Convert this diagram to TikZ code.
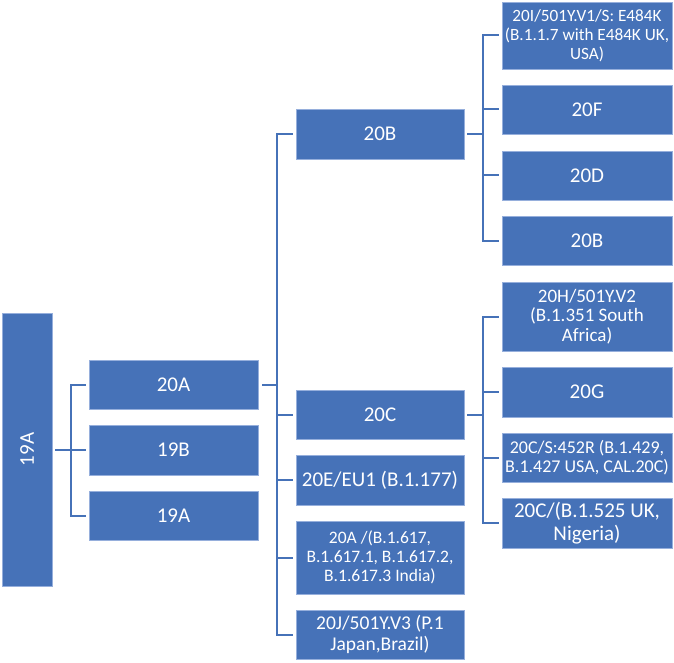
\documentclass[tikz,border=0pt]{standalone}
\usepackage{fontspec}
\setmainfont{Carlito}
\definecolor{boxblue}{RGB}{70,114,184}
\definecolor{boxedge}{RGB}{150,175,220}
\begin{document}
\begin{tikzpicture}[x=1pt,y=-1pt,
  box/.style={fill=boxblue, draw=boxedge, line width=0.7pt, text=white, inner sep=0pt, align=center, anchor=center},
  cola/.style={box, minimum width=169pt},
  colb/.style={box, minimum width=168pt},
  colc/.style={box, minimum width=170pt},
  big/.style={font=\fontsize{21}{22}\selectfont},
  conn/.style={draw=boxblue, line width=2pt}]
\useasboundingbox (0,0) rectangle (674,663);
% root
\node[box, minimum width=50pt, minimum height=273pt, big] (root) at (27,449.5) {\rotatebox{90}{19A}};
% level 1
\node[cola, minimum height=49pt, big] (a20A) at (173.5,384.5) {20A};
\node[cola, minimum height=50pt, big] (a19B) at (173.5,450) {19B};
\node[cola, minimum height=49pt, big] (a19A) at (173.5,515.5) {19A};
% level 2
\node[colb, minimum height=50pt, big] (b20B) at (380,134) {20B};
\node[colb, minimum height=49pt, big] (b20C) at (380,414.5) {20C};
\node[colb, minimum height=50pt, big] (b20E) at (380,480) {20E/EU1 (B.1.177)};
\node[colb, minimum height=73pt, font=\fontsize{17.5}{18.8}\selectfont] (b20Ai) at (380,557.5) {20A /(B.1.617,\\B.1.617.1, B.1.617.2,\\B.1.617.3 India)};
\node[colb, minimum height=49pt, font=\fontsize{19.5}{20.5}\selectfont] (b20J) at (380,634.5) {20J/501Y.V3 (P.1\\Japan,Brazil)};
% level 3 under 20B
\node[colc, minimum height=67pt, font=\fontsize{17.2}{19}\selectfont] (c20I) at (587,35.5) {20I/501Y.V1/S: E484K\\(B.1.1.7 with E484K UK,\\USA)};
\node[colc, minimum height=49pt, big] (c20F) at (587,109.5) {20F};
\node[colc, minimum height=49pt, big] (c20D) at (587,175.5) {20D};
\node[colc, minimum height=49pt, big] (c20B) at (587,240.5) {20B};
% level 3 under 20C
\node[colc, minimum height=69pt, font=\fontsize{19}{19.5}\selectfont] (c20H) at (587,316.5) {20H/501Y.V2\\(B.1.351 South\\Africa)};
\node[colc, minimum height=50pt, big] (c20G) at (587,392) {20G};
\node[colc, minimum height=49pt, font=\fontsize{18}{19.5}\selectfont] (c20CS) at (587,457.5) {20C/S:452R (B.1.429,\\B.1.427 USA, CAL.20C)};
\node[colc, minimum height=50pt, font=\fontsize{21}{23}\selectfont] (c20CB) at (587,523) {20C/(B.1.525 UK,\\Nigeria)};
% connectors
\foreach \c in {a20A,a19B,a19A}
  \draw[conn] ([xshift=3pt]root.east) -| ([xshift=-18pt]\c.west) -- ([xshift=-3pt]\c.west);
\foreach \c in {b20B,b20C,b20E,b20Ai,b20J}
  \draw[conn] ([xshift=4pt]a20A.east) -| ([xshift=-19pt]\c.west) -- ([xshift=-3pt]\c.west);
\foreach \c in {c20I,c20F,c20D,c20B}
  \draw[conn] ([xshift=3pt]b20B.east) -| ([xshift=-19pt]\c.west) -- ([xshift=-3pt]\c.west);
\foreach \c in {c20H,c20G,c20CS,c20CB}
  \draw[conn] ([xshift=3pt]b20C.east) -| ([xshift=-19pt]\c.west) -- ([xshift=-3pt]\c.west);
\end{tikzpicture}
\end{document}
